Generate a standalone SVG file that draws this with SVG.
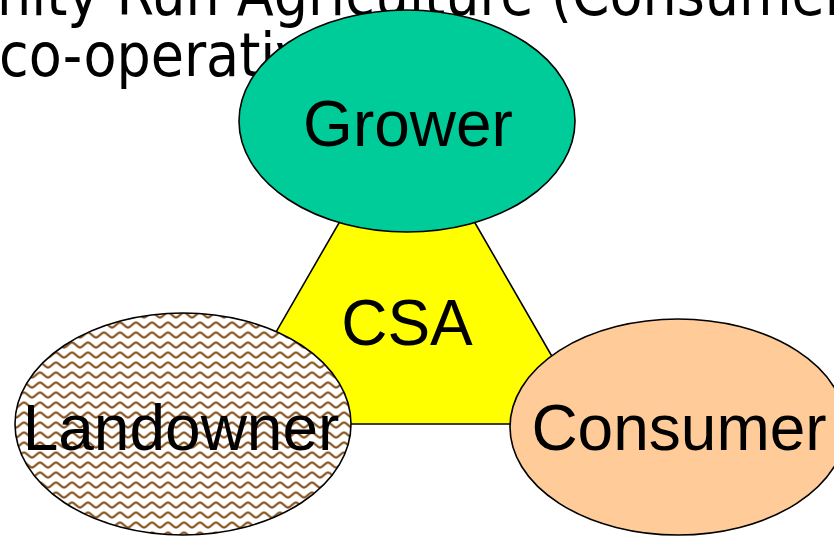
<svg xmlns="http://www.w3.org/2000/svg" width="834" height="536" viewBox="0 0 834 536">
  <defs>
    <pattern id="wave" patternUnits="userSpaceOnUse" width="16" height="10">
      <rect width="16" height="10" fill="#ffffff"/>
      <path d="M0,7.5 C3,7.5 5,2.5 8,2.5 C11,2.5 13,7.5 16,7.5" fill="none" stroke="#c9a57e" stroke-width="3"/>
      <path d="M0,7.5 C3,7.5 5,2.5 8,2.5 C11,2.5 13,7.5 16,7.5" fill="none" stroke="#7f5227" stroke-width="1.5"/>
    </pattern>
    <style>
      .title { font-family: "DejaVu Sans Condensed", "DejaVu Sans", sans-serif; font-stretch: condensed; font-size: 60px; fill: #000; }
      .node { stroke: #000; stroke-width: 1.6; }
      .label { font-family: "Liberation Sans", Arial, sans-serif; font-size: 64px; fill: #000; text-anchor: middle; }
    </style>
  </defs>
  <rect width="834" height="536" fill="#ffffff"/>
  <g id="title">
    <text class="title" x="-3" y="15">nity Run Agriculture (Consumer</text>
    <text class="title" x="-1" y="76">co-operative</text>
  </g>
  <g id="csa">
    <polygon class="node" points="407,105 591,424 223,424" fill="#ffff00"/>
    <text class="label" x="407" y="345">CSA</text>
  </g>
  <g id="grower">
    <ellipse class="node" cx="407" cy="121" rx="168" ry="111" fill="#00cc99"/>
    <text class="label" x="408" y="146">Grower</text>
  </g>
  <g id="landowner">
    <ellipse class="node" cx="183" cy="424" rx="168" ry="111" fill="url(#wave)"/>
    <text class="label" x="181" y="450">Landowner</text>
  </g>
  <g id="consumer">
    <ellipse class="node" cx="678" cy="427" rx="168" ry="108" fill="#ffcc99"/>
    <text class="label" x="679" y="450">Consumer</text>
  </g>
  <g id="connectors"/>
</svg>
